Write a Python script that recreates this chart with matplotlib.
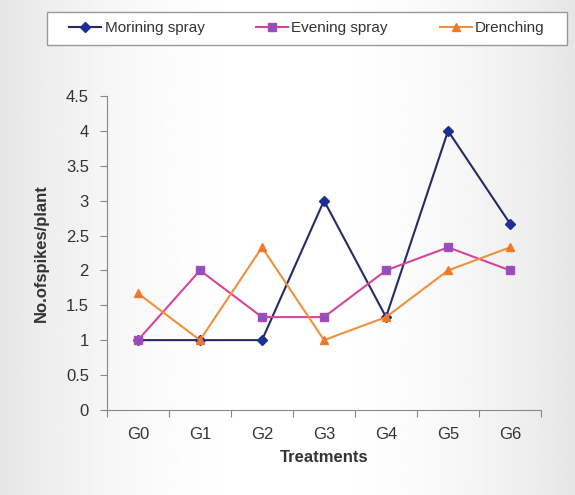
import matplotlib.pyplot as plt
import numpy as np
from matplotlib.patches import Rectangle

plt.rcParams['font.family'] = ['Liberation Sans', 'DejaVu Sans']

categories = ['G0', 'G1', 'G2', 'G3', 'G4', 'G5', 'G6']
morning = [1, 1, 1, 3, 1.33, 4, 2.67]
evening = [1, 2, 1.33, 1.33, 2, 2.33, 2]
drenching = [1.67, 1, 2.33, 1, 1.33, 2, 2.33]

fig = plt.figure(figsize=(5.75, 4.95), dpi=100)

# soft grey-to-white background like the scanned figure
bg = fig.add_axes([0, 0, 1, 1], zorder=-10)
xs = np.linspace(-1, 1, 300)
grad = 1 - 0.10 * np.abs(xs) ** 2.2
bg.imshow(np.tile(grad, (50, 1)), cmap='gray', vmin=0, vmax=1,
          aspect='auto', extent=[0, 1, 0, 1])
bg.axis('off')

ax = fig.add_axes([0.186, 0.172, 0.755, 0.634])
ax.patch.set_alpha(0)
x = np.arange(len(categories))

ax.plot(x, morning, color='#262a66', lw=1.5, marker='D', ms=5,
        mfc='#1c2f94', mec='#1c2f94', label='Morining spray')
ax.plot(x, evening, color='#d8449c', lw=1.5, marker='s', ms=6,
        mfc='#8a52c0', mec='#b04ab0', label='Evening spray')
ax.plot(x, drenching, color='#f0903c', lw=1.5, marker='^', ms=6,
        mfc='#f07828', mec='#f07828', label='Drenching')

ax.set_xlim(-0.5, 6.5)
ax.set_ylim(0, 4.5)
ax.set_yticks(np.arange(0, 4.51, 0.5))
ax.set_yticklabels(['0', '0.5', '1', '1.5', '2', '2.5', '3', '3.5', '4', '4.5'])
ax.set_xticks(np.arange(-0.5, 7, 1))
ax.set_xticklabels([])
ax.set_xticks(x, minor=True)
ax.set_xticklabels(categories, minor=True)
ax.tick_params(axis='x', which='minor', length=0, pad=12)
ax.tick_params(axis='x', which='major', length=5, color='#888888')
ax.tick_params(axis='y', length=5, color='#888888', pad=8)
ax.tick_params(which='both', labelsize=12, labelcolor='#333333')
for s in ['top', 'right']:
    ax.spines[s].set_visible(False)
for s in ['left', 'bottom']:
    ax.spines[s].set_color('#888888')

ax.set_xlabel('Treatments', fontsize=12, fontweight='bold', color='#333333', labelpad=6)
ax.set_ylabel('No.ofspikes/plant', fontsize=12, fontweight='bold', color='#333333', labelpad=12)

# legend box frame drawn separately so it can be wider than the entries
fig.patches.append(Rectangle((0.082, 0.909), 0.904, 0.067, transform=fig.transFigure,
                             facecolor='white', edgecolor='#999999', lw=1, zorder=0))
leg = fig.legend(loc='center', bbox_to_anchor=(0.534, 0.943), ncol=3, fontsize=11,
                 frameon=False, columnspacing=3.4, handlelength=2.1, handletextpad=0.2)
for t in leg.get_texts():
    t.set_color('#333333')

fig.savefig('out.png', dpi=100)
